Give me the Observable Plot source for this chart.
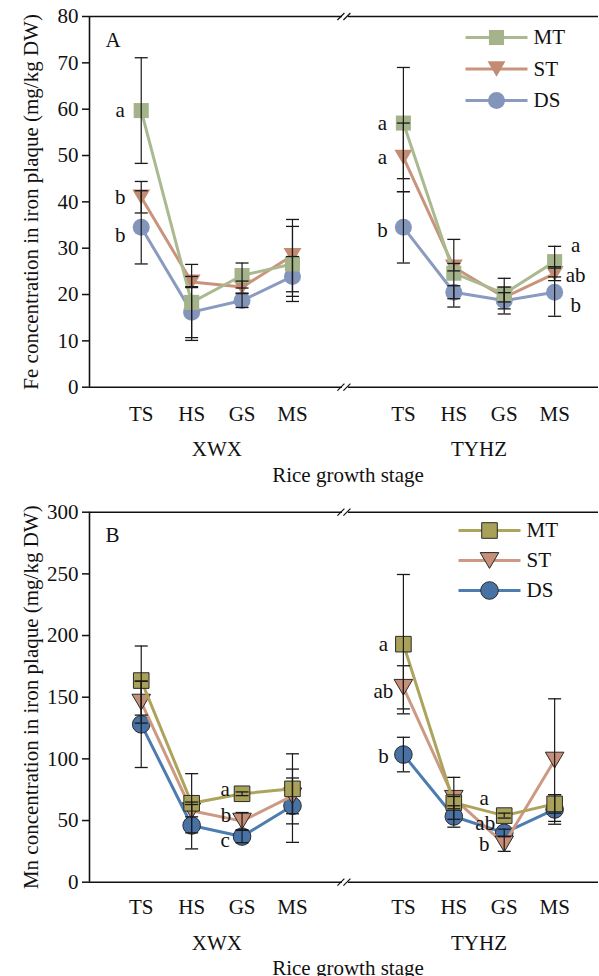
<!DOCTYPE html>
<html>
<head>
<meta charset="utf-8">
<script src="https://cdn.jsdelivr.net/npm/d3@7"></script>
<script src="https://cdn.jsdelivr.net/npm/@observablehq/plot@0.6"></script>
<style>
  html, body { margin: 0; padding: 0; background: #fff; }
  #chart { width: 599px; height: 976px; overflow: hidden; }
  #chart svg { display: block; }
</style>
</head>
<body>
<div id="chart"></div>
<script>
// ---------------- data ----------------
const stages = ["TS", "HS", "GS", "MS"];
const cultivars = ["XWX", "TYHZ"];
const treatments = ["MT", "ST", "DS"];

const feTicks = [0, 10, 20, 30, 40, 50, 60, 70, 80];
const mnTicks = [0, 50, 100, 150, 200, 250, 300];

// values ordered: XWX TS,HS,GS,MS then TYHZ TS,HS,GS,MS
const feMT   = [59.7, 18.3, 24.1, 26.6, 57.0, 24.6, 20.2, 27.1];
const feMTsd = [11.4, 8.2, 2.7, 8.1, 12.0, 7.3, 3.3, 3.3];
const feST   = [41.0, 22.7, 21.6, 28.4, 49.6, 25.9, 19.4, 24.5];
const feSTsd = [3.4, 1.2, 1.3, 7.8, 7.4, 0.8, 1.0, 1.5];
const feDS   = [34.5, 16.2, 18.7, 23.9, 34.5, 20.5, 18.7, 20.5];
const feDSsd = [7.9, 5.5, 1.5, 4.3, 7.7, 1.4, 2.9, 5.2];

const mnMT   = [163.5, 64, 71.7, 75.7, 193, 64.5, 54, 63.5];
const mnMTsd = [28, 24, 1.5, 28.4, 56.5, 5, 2, 7.5];
const mnST   = [146, 58, 49.5, 70, 158, 68, 31, 99];
const mnSTsd = [17, 5, 7, 14.5, 17.5, 17, 6, 49.7];
const mnDS   = [128, 46, 37, 62, 103.5, 53.3, 40, 59];
const mnDSsd = [35, 19, 5, 29.7, 14, 8.7, 3, 12];

// significance letters: [cultivar, stage, treatment, letter]
const feLetters = [
  ["XWX", "TS", "MT", "a"], ["XWX", "TS", "ST", "b"], ["XWX", "TS", "DS", "b"],
  ["TYHZ", "TS", "MT", "a"], ["TYHZ", "TS", "ST", "a"], ["TYHZ", "TS", "DS", "b"],
  ["TYHZ", "MS", "MT", "a"], ["TYHZ", "MS", "ST", "ab"], ["TYHZ", "MS", "DS", "b"]
];
const mnLetters = [
  ["XWX", "GS", "MT", "a"], ["XWX", "GS", "ST", "b"], ["XWX", "GS", "DS", "c"],
  ["TYHZ", "TS", "MT", "a"], ["TYHZ", "TS", "ST", "ab"], ["TYHZ", "TS", "DS", "b"],
  ["TYHZ", "GS", "MT", "a"], ["TYHZ", "GS", "DS", "ab"], ["TYHZ", "GS", "ST", "b"]
];

// ---------------- layout (pixel offsets for letters) ----------------
const feLetterOffsets = [[-21, 0], [-21, 0], [-21, 8], [-21, 0], [-21, 0], [-21, 3], [21, -16], [21, 2], [21, 13]];
const mnLetterOffsets = [[-17, -5], [-16, -6], [-17, 4], [-20, 0], [-20, 4], [-20, 2], [-20, -17], [-19, -10], [-20, 0]];

const groupGap = 5.2;             // offset of second cultivar on x
const xDomain = [-0.026, 10.07];
const breakX = 5.05;
const stagePos = (ci, si) => 1 + si + ci * groupGap;

function records(means, sds, trt) {
  const out = [];
  cultivars.forEach((cv, ci) => stages.forEach((st, si) => {
    const k = ci * 4 + si;
    out.push({cv, stage: st, trt, x: stagePos(ci, si), mean: means[k], sd: sds[k]});
  }));
  return out;
}

// ---------------- symbols ----------------
const triDown = {draw(ctx, size) {
  const r = Math.sqrt(size / Math.PI);
  const w = r * 1.08, h = r * 0.92;
  ctx.moveTo(-w, -h); ctx.lineTo(w, -h); ctx.lineTo(0, h); ctx.closePath();
}};
const capSym = {draw(ctx) { ctx.moveTo(-6.5, 0); ctx.lineTo(6.5, 0); }};
const hline = (len) => ({draw(ctx) { ctx.moveTo(-len / 2, 0); ctx.lineTo(len / 2, 0); }});
const slashSym = {draw(ctx) {
  ctx.moveTo(-8, 3.5); ctx.lineTo(-1, -3.5);
  ctx.moveTo(-2, 3.5); ctx.lineTo(5, -3.5);
}};
const gapSym = {draw(ctx) { ctx.moveTo(-3.5, 0); ctx.lineTo(2.5, 0); }};

const FONT = "'Liberation Serif', 'Times New Roman', serif";

function makePanel(cfg) {
  const data = {
    MT: records(cfg.MT, cfg.MTsd, "MT"),
    ST: records(cfg.ST, cfg.STsd, "ST"),
    DS: records(cfg.DS, cfg.DSsd, "DS")
  };
  const all = [...data.MT, ...data.ST, ...data.DS];
  const ymax = cfg.ticks[cfg.ticks.length - 1];
  const symbols = {MT: "square", ST: triDown, DS: "circle"};
  const radius = cfg.radius;
  const marks = [];

  // axes frame lines
  marks.push(Plot.ruleY([0, ymax], {x1: xDomain[0], x2: xDomain[1], stroke: "#111", strokeWidth: 1.6}));
  marks.push(Plot.ruleX([xDomain[0]], {y1: 0, y2: ymax, stroke: "#111", strokeWidth: 1.6}));
  // axis break marks
  marks.push(Plot.dot([0, ymax], {x: () => breakX, y: d => d, symbol: gapSym, stroke: "white", strokeWidth: 3, fill: "none"}));
  marks.push(Plot.dot([0, ymax], {x: () => breakX, y: d => d, symbol: slashSym, stroke: "#111", strokeWidth: 1.2, fill: "none"}));

  marks.push(Plot.axisY({ticks: cfg.ticks, tickSize: 7, tickPadding: 4, label: null, strokeWidth: 1.5, fontSize: 21}));

  // series: DS at bottom, MT on top
  for (const t of ["DS", "ST", "MT"]) {
    marks.push(Plot.line(data[t], {x: "x", y: "mean", z: "cv", stroke: cfg.lineColors[t], strokeWidth: 3}));
    marks.push(Plot.dot(data[t], {
      x: "x", y: "mean", symbol: symbols[t], r: radius[t],
      fill: cfg.fillColors[t],
      stroke: cfg.outline ? cfg.outline : "none", strokeWidth: cfg.outline ? 1 : 0
    }));
  }
  // error bars on top
  marks.push(Plot.ruleX(all, {x: "x", y1: d => d.mean - d.sd, y2: d => d.mean + d.sd, stroke: "#1a1a1a", strokeWidth: 1.2}));
  marks.push(Plot.dot(all, {x: "x", y: d => d.mean + d.sd, symbol: capSym, stroke: "#1a1a1a", strokeWidth: 1.3, fill: "none"}));
  marks.push(Plot.dot(all, {x: "x", y: d => d.mean - d.sd, symbol: capSym, stroke: "#1a1a1a", strokeWidth: 1.3, fill: "none"}));

  // significance letters
  cfg.letters.forEach(([cv, st, trt, txt], i) => {
    const rec = data[trt].find(d => d.cv === cv && d.stage === st);
    const [dx, dy] = cfg.letterOffsets[i];
    marks.push(Plot.text([rec], {x: "x", y: "mean", text: () => txt, dx, dy, fontSize: 21, fontFamily: FONT, fill: "#111", lineAnchor: "middle", textAnchor: "middle"}));
  });

  // x stage labels
  const stageTicks = [];
  cultivars.forEach((cv, ci) => stages.forEach((st, si) => stageTicks.push({x: stagePos(ci, si), label: st})));
  marks.push(Plot.text(stageTicks, {x: "x", text: "label", frameAnchor: "bottom", dy: cfg.stageDy, lineAnchor: "middle", textAnchor: "middle", fontSize: 21, fontFamily: FONT, fill: "#111"}));
  const cvTicks = cultivars.map((cv, ci) => ({x: (stagePos(ci, 0) + stagePos(ci, 3)) / 2, label: cv}));
  marks.push(Plot.text(cvTicks, {x: "x", text: "label", frameAnchor: "bottom", dy: cfg.cvDy, lineAnchor: "middle", textAnchor: "middle", fontSize: 21, fontFamily: FONT, fill: "#111"}));
  marks.push(Plot.text(["Rice growth stage"], {text: d => d, frameAnchor: "bottom", dx: 4, dy: cfg.titleDy, lineAnchor: "middle", textAnchor: "middle", fontSize: 21, fontFamily: FONT, fill: "#111"}));

  // y title
  marks.push(Plot.text([cfg.yLabel], {text: d => d, frameAnchor: "left", rotate: -90, dx: -58, lineAnchor: "middle", textAnchor: "middle", fontSize: 21, fontFamily: FONT, fill: "#111"}));
  // panel letter
  marks.push(Plot.text([cfg.panel], {text: d => d, frameAnchor: "top-left", dx: 16, dy: cfg.panelDy, textAnchor: "start", lineAnchor: "middle", fontSize: 21, fontFamily: FONT, fill: "#111"}));

  // legend
  treatments.forEach((t, i) => {
    const dy = cfg.legendDy + i * cfg.legendStep;
    marks.push(Plot.dot([0], {frameAnchor: "top-right", dx: cfg.legendDx, dy, symbol: hline(62), stroke: cfg.lineColors[t], strokeWidth: 3, fill: "none"}));
    marks.push(Plot.dot([0], {frameAnchor: "top-right", dx: cfg.legendDx, dy, symbol: symbols[t], r: radius[t], fill: cfg.fillColors[t],
      stroke: cfg.outline ? cfg.outline : "none", strokeWidth: cfg.outline ? 1 : 0}));
    marks.push(Plot.text([t], {frameAnchor: "top-right", dx: cfg.legendDx + 37, dy, text: d => d, textAnchor: "start", lineAnchor: "middle", fontSize: 21, fontFamily: FONT, fill: "#111"}));
  });

  return Plot.plot({
    width: 599,
    height: cfg.height,
    marginLeft: 89,
    marginRight: 1,
    marginTop: cfg.marginTop,
    marginBottom: cfg.marginBottom,
    style: {fontFamily: FONT, fontSize: "21px", color: "#111", background: "white", overflow: "visible"},
    x: {type: "linear", domain: xDomain, axis: null},
    y: {domain: [0, ymax], axis: null},
    marks
  });
}

const panelA = makePanel({
  panel: "A", height: 490, marginTop: 16, marginBottom: 103.3,
  ticks: feTicks,
  MT: feMT, MTsd: feMTsd, ST: feST, STsd: feSTsd, DS: feDS, DSsd: feDSsd,
  letters: feLetters, letterOffsets: feLetterOffsets,
  yLabel: "Fe concentration in iron plaque (mg/kg DW)",
  fillColors: {MT: "#a5b38b", ST: "#c48b73", DS: "#8495bb"},
  lineColors: {MT: "#abb991", ST: "#c9937c", DS: "#8a9bc0"},
  outline: null,
  radius: {MT: 8.5, ST: 8.3, DS: 8.5},
  stageDy: 27.3, cvDy: 61.8, titleDy: 87.8, panelDy: 24,
  legendDx: -102, legendDy: 21, legendStep: 31.5
});
const panelB = makePanel({
  panel: "B", height: 486, marginTop: 21.7, marginBottom: 94.3,
  ticks: mnTicks,
  MT: mnMT, MTsd: mnMTsd, ST: mnST, STsd: mnSTsd, DS: mnDS, DSsd: mnDSsd,
  letters: mnLetters, letterOffsets: mnLetterOffsets,
  yLabel: "Mn concentration in iron plaque (mg/kg DW)",
  fillColors: {MT: "#a9a157", ST: "#c78f77", DS: "#4872a6"},
  lineColors: {MT: "#aca35c", ST: "#cc9a82", DS: "#4d7cb0"},
  outline: "#2a2a2a",
  radius: {MT: 8.8, ST: 8.6, DS: 8.8},
  stageDy: 25.3, cvDy: 60.8, titleDy: 86.3, panelDy: 23.3,
  legendDx: -109, legendDy: 18.3, legendStep: 30
});

const chart = document.getElementById("chart");
chart.appendChild(panelA);
chart.appendChild(panelB);
</script>
</body>
</html>
